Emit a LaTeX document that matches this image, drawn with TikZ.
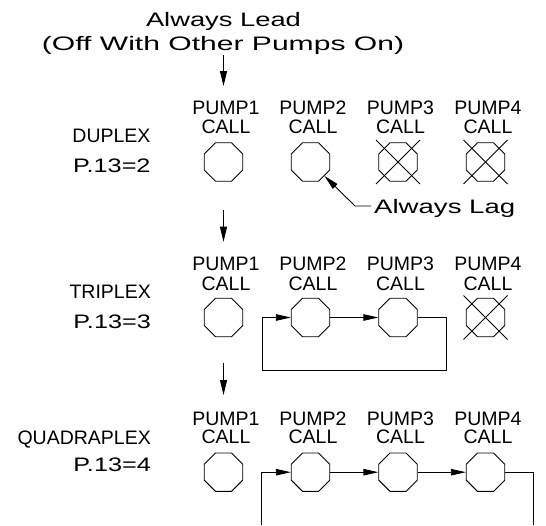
\documentclass[tikz,border=0pt]{standalone}
\usepackage{fontspec}
\setmainfont{Liberation Sans}
\usepackage{graphicx}
\usetikzlibrary{shapes.geometric,arrows.meta}
\newcommand{\stw}[2]{\resizebox{#1}{\height}{#2}}
\begin{document}
\begin{tikzpicture}[x=1pt,y=-1pt,
  txt/.style={font=\fontsize{19.5}{22}\selectfont, inner sep=0pt, anchor=base},
  oct/.style={draw, regular polygon, regular polygon sides=8, minimum size=41.6pt, inner sep=0pt, line width=0.9pt},
  ln/.style={line width=0.9pt},
  arr/.style={line width=0.9pt, -{Triangle[length=15pt,width=6.5pt]}},
  darr/.style={line width=0.9pt, -{Triangle[length=15pt,width=7pt]}}]
\useasboundingbox (0,0) rectangle (546,525);

% header
\node[txt] (lead1) at (223.5,26) {\stw{155pt}{Always Lead}};
\node[txt] (lead2) at (223,50.7) {\stw{362pt}{(Off With Other Pumps On)}};

% duplex row
\foreach \i/\x in {1/223.5,2/310.5,3/398,4/485.5} {
  \node[txt] (dp\i) at (\x+2.5,114.3) {PUMP\i};
  \node[txt] (dc\i) at (\x+2.5,133.3) {CALL};
  \node[oct] (d\i) at (\x,162) {};
}
\node[txt, anchor=base east] (dup) at (150.7,142.3) {DUPLEX};
\node[txt, anchor=base east] (dupn) at (150.7,172.7) {\stw{77.4pt}{P.13=2}};

% triplex row
\foreach \i/\x in {1/223.5,2/310.5,3/398,4/485.5} {
  \node[txt] (tp\i) at (\x+2.5,270) {PUMP\i};
  \node[txt] (tc\i) at (\x+2.5,290) {CALL};
  \node[oct] (t\i) at (\x,317.5) {};
}
\node[txt, anchor=base east] (tri) at (151,298.5) {TRIPLEX};
\node[txt, anchor=base east] (trin) at (151,328.5) {\stw{77.4pt}{P.13=3}};

% quadraplex row
\foreach \i/\x in {1/223.5,2/310.5,3/398,4/485.5} {
  \node[txt] (qp\i) at (\x+2.5,425) {PUMP\i};
  \node[txt] (qc\i) at (\x+2.5,443.3) {CALL};
  \node[oct] (q\i) at (\x,472.2) {};
}
\node[txt, anchor=base east] (quad) at (151,444) {QUADRAPLEX};
\node[txt, anchor=base east] (quadn) at (151,471.7) {\stw{77.4pt}{P.13=4}};

% crosses on unused pumps
\foreach \n in {d3,d4,t4} {
  \draw[ln] ([shift={(-22,-22)}]\n.center) -- ([shift={(22,22)}]\n.center);
  \draw[ln] ([shift={(-22,22)}]\n.center) -- ([shift={(22,-22)}]\n.center);
}

% down arrows
\coordinate (a1s) at (223.5,55);  \coordinate (a1e) at (223.5,86);
\coordinate (a2s) at (223.5,210); \coordinate (a2e) at (223.5,241.7);
\coordinate (a3s) at (223.5,363); \coordinate (a3e) at (223.5,395);
\draw[darr] (a1s) -- (a1e);
\draw[darr] (a2s) -- (a2e);
\draw[darr] (a3s) -- (a3e);

% always lag leader
\node[txt, anchor=base west] (lag) at (374,213) {\stw{141pt}{Always Lag}};
\coordinate (lagk) at (371,206);
\coordinate (lagb) at (355,206);
\draw[arr] (lagk) -- (lagb) -- (d2.-45);

% triplex rotation loop
\coordinate (tr1) at (446,317.5);
\coordinate (tr2) at (446,370);
\coordinate (tl2) at (262.3,370);
\coordinate (tl1) at (262.3,317.5);
\draw[arr] (t3.east) -- (tr1) -- (tr2) -- (tl2) -- (tl1) -- (t2.west);
\draw[arr] (t2.east) -- (t3.west);

% quadraplex rotation loop
\coordinate (qr1) at (533.3,472.2);
\coordinate (qr2) at (533.3,525);
\coordinate (ql2) at (261.7,525);
\coordinate (ql1) at (261.7,472.2);
\draw[ln] (q4.east) -- (qr1) -- (qr2);
\draw[arr] (ql2) -- (ql1) -- (q2.west);
\draw[arr] (q2.east) -- (q3.west);
\draw[arr] (q3.east) -- (q4.west);
\end{tikzpicture}
\end{document}
